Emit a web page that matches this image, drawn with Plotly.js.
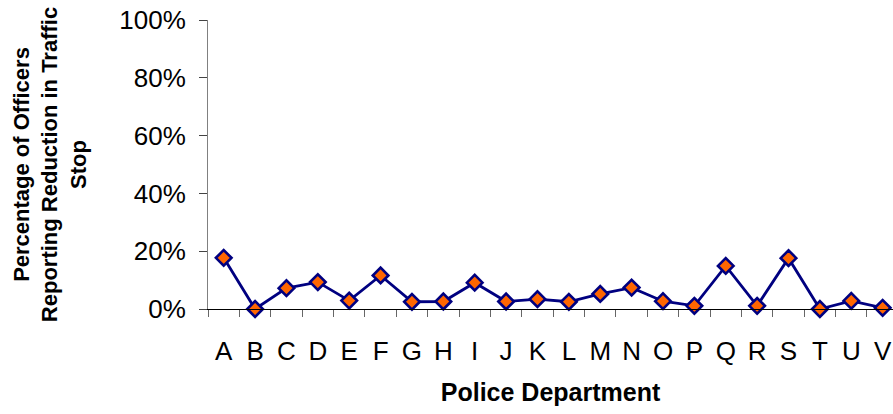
<!DOCTYPE html>
<html>
<head>
<meta charset="utf-8">
<script src="https://cdn.plot.ly/plotly-3.0.1.min.js"></script>
<style>html,body{margin:0;padding:0;background:#fff;}#chart{width:893px;height:414px;}</style>
</head>
<body>
<div id="chart"></div>
<script>
var departments = ["A","B","C","D","E","F","G","H","I","J","K","L","M","N","O","P","Q","R","S","T","U","V"];
var percentReporting = [0.177, 0.0, 0.072, 0.093, 0.029, 0.116, 0.025, 0.026, 0.091, 0.026, 0.034, 0.025, 0.052, 0.074, 0.027, 0.011, 0.149, 0.011, 0.176, 0.0, 0.028, 0.004];
var yTickValues = [0, 0.2, 0.4, 0.6, 0.8, 1.0];

var trace = {
  x: departments,
  y: percentReporting,
  type: 'scatter',
  mode: 'lines+markers',
  cliponaxis: false,
  line: {color: '#000080', width: 2.8},
  marker: {symbol: 'diamond', size: 12, color: '#FF6600', line: {color: '#000080', width: 2.6}},
  hoverinfo: 'x+y'
};

var layout = {
  width: 893,
  height: 414,
  margin: {l: 208, r: 0, t: 20, b: 105},
  paper_bgcolor: '#ffffff',
  plot_bgcolor: '#ffffff',
  showlegend: false,
  font: {family: 'Liberation Sans, Arial, sans-serif', color: '#000000'},
  xaxis: {
    type: 'category',
    range: [-0.5, 21.33],
    showgrid: false,
    zeroline: false,
    showline: true,
    linecolor: '#000000',
    linewidth: 1,
    ticks: 'outside',
    tickson: 'boundaries',
    ticklen: 7,
    tickcolor: '#666666',
    ticklabelstandoff: 19,
    tickfont: {size: 26, color: '#000000'},
    title: {text: '<b>Police Department</b>', font: {size: 25, color: '#000000'}, standoff: 18}
  },
  yaxis: {
    range: [0, 1],
    tickvals: yTickValues,
    tickformat: '.0%',
    showgrid: false,
    zeroline: false,
    showline: true,
    linecolor: '#808080',
    linewidth: 1,
    ticks: 'outside',
    ticklen: 8,
    tickcolor: '#444444',
    ticklabelstandoff: 8,
    tickfont: {size: 26, color: '#000000'},
    title: {text: '<b>Percentage of Officers<br>Reporting Reduction in Traffic<br>Stop</b>', font: {size: 22, color: '#000000'}, standoff: 26}
  }
};

Plotly.newPlot('chart', [trace], layout, {displayModeBar: false, staticPlot: true});
</script>
</body>
</html>
